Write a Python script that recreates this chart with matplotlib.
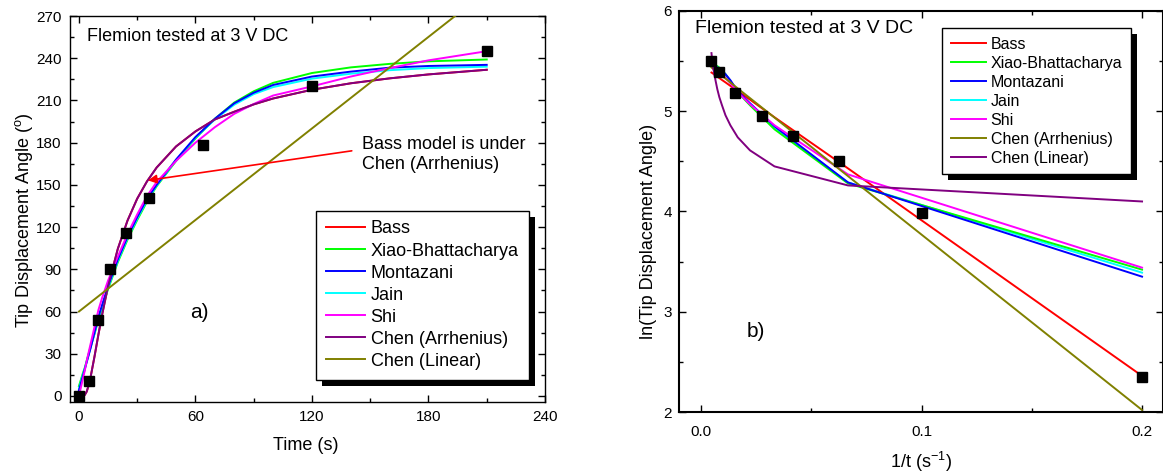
import numpy as np
import matplotlib.pyplot as plt
from matplotlib.patches import Rectangle
from matplotlib.transforms import IdentityTransform
from matplotlib.ticker import MultipleLocator

plt.rcParams['font.family'] = ['Liberation Sans', 'DejaVu Sans']
plt.rcParams['mathtext.fontset'] = 'custom'
plt.rcParams['mathtext.rm'] = 'Liberation Sans'
plt.rcParams['mathtext.it'] = 'Liberation Sans:italic'

# measured tip displacement of the Flemion sample
time_s = [0, 5, 10, 16, 24, 36, 64, 120, 210]
angle_deg = [0, 10.5, 54, 90, 116, 141, 178, 220, 245]

# model curves, time domain
fit_t = [0, 2, 3, 4, 5, 6, 8, 10, 12, 15, 20, 25, 30, 35, 40, 50, 60, 70, 80,
         90, 100, 120, 140, 160, 180, 210]
chen_arr = [0, 0.04, 0.7, 3.1, 7.5, 13.4, 27.9, 43.4, 58.2, 78, 104.5, 124.6,
            140.2, 152.4, 162.3, 177.3, 188, 196.5, 202, 207.2, 211.4, 217.6,
            222.2, 225.7, 228.5, 231.8]
bass = chen_arr  # identical to Chen (Arrhenius) in this panel
xiao = [7, 16, 20, 25, 30, 35, 44, 54, 63, 76, 95, 111, 125, 138, 149, 167,
        183, 197, 208.5, 216.5, 222.5, 229.5, 233.5, 236, 237.8, 239.1]
montazani = [4, 14, 19, 24, 29, 34, 45, 56, 65, 78, 97, 113, 127, 140, 150,
             168, 184, 197, 208, 215.5, 221, 227, 230.5, 233.3, 234.5, 235.3]
jain = [5, 15, 19.5, 24.5, 29.5, 34.5, 44.5, 55, 64, 77, 96, 112, 126, 139,
        149.5, 167.5, 183.5, 196.5, 207, 214.5, 219.5, 225.5, 229, 231.5, 233,
        234]
shi = [0, 12, 18, 25, 31, 37, 49, 61, 70, 82, 99, 115, 129, 142, 152, 167,
       180, 191, 200.5, 207.5, 213.5, 220, 227, 233, 238.5, 245]
lin_t = [0, 240]
chen_lin = [60, 320.2]

# model curves, ln(angle) against 1/t
grid_t = [5, 15, 30, 45, 60, 75, 90, 105, 120, 135, 150, 165, 180, 195, 210]
ln_bass = [2.36, 4.43, 4.94, 5.116, 5.202, 5.253, 5.288, 5.312, 5.331, 5.345,
           5.357, 5.366, 5.374, 5.381, 5.386]
ln_xiao = [3.42, 4.28, 4.82, 5.06, 5.19, 5.30, 5.37, 5.41, 5.435, 5.45, 5.46,
           5.465, 5.47, 5.474, 5.477]
ln_montazani = [3.35, 4.29, 4.85, 5.08, 5.20, 5.31, 5.37, 5.405, 5.425,
                5.438, 5.447, 5.453, 5.457, 5.459, 5.461]
ln_jain = [3.39, 4.29, 4.84, 5.07, 5.195, 5.30, 5.365, 5.40, 5.42, 5.433,
           5.442, 5.448, 5.452, 5.455, 5.457]
ln_shi = [3.44, 4.37, 4.86, 5.07, 5.19, 5.28, 5.335, 5.37, 5.394, 5.415,
          5.437, 5.457, 5.474, 5.488, 5.50]
ln_chen_arr = [2.02, 4.353, 4.937, 5.131, 5.228, 5.287, 5.326, 5.353, 5.374,
               5.390, 5.403, 5.414, 5.423, 5.430, 5.437]
ln_chen_lin = [4.10, 4.26, 4.45, 4.61, 4.74, 4.86, 4.96, 5.06, 5.14, 5.22,
               5.30, 5.37, 5.43, 5.50, 5.58]

RED, GREEN, BLUE = '#ff0000', '#00ff00', '#0000ff'
CYAN, MAGENTA = '#00ffff', '#ff00ff'
PURPLE, OLIVE = '#800080', '#808000'
LW = 1.4


def style_axes(ax, spine_w):
    for s in ax.spines.values():
        s.set_linewidth(spine_w)
    ax.tick_params(which='both', direction='in', top=True, right=True,
                   labelsize=11, width=1)
    ax.tick_params(which='major', length=5)
    ax.tick_params(which='minor', length=3)


def boxed_legend(ax, fig, anchor, fs, spacing, off=6):
    leg = ax.legend(loc='upper left', bbox_to_anchor=anchor, fontsize=fs,
                    frameon=True, fancybox=False, framealpha=1,
                    edgecolor='black', borderaxespad=0, handlelength=2.2,
                    handletextpad=0.3, labelspacing=spacing, borderpad=0.55)
    leg.get_frame().set_linewidth(1.0)
    fig.canvas.draw()
    bb = leg.get_window_extent()
    ax.add_patch(Rectangle((bb.x0 + off, bb.y0 - off), bb.width, bb.height,
                           transform=IdentityTransform(), facecolor='black',
                           edgecolor='none', zorder=4.9, clip_on=False))


fig = plt.figure(figsize=(11.63, 4.74), dpi=100)

# ---- a) angle against time ----
ax1 = fig.add_axes([0.0602, 0.1519, 0.4084, 0.8143])
ax1.plot(fit_t, bass, color=RED, lw=LW, label='Bass', zorder=2)
ax1.plot(fit_t, xiao, color=GREEN, lw=LW, label='Xiao-Bhattacharya', zorder=2.1)
ax1.plot(fit_t, montazani, color=BLUE, lw=LW, label='Montazani', zorder=2.3)
ax1.plot(fit_t, jain, color=CYAN, lw=LW, label='Jain', zorder=2.2)
ax1.plot(fit_t, shi, color=MAGENTA, lw=LW, label='Shi', zorder=2.4)
ax1.plot(fit_t, chen_arr, color=PURPLE, lw=LW, label='Chen (Arrhenius)', zorder=2.5)
ax1.plot(lin_t, chen_lin, color=OLIVE, lw=LW, label='Chen (Linear)', zorder=2.6)
ax1.plot(time_s, angle_deg, 's', color='black', ms=6.5, zorder=3)

ax1.set_xlim(-4.6, 240)
ax1.set_ylim(-4.3, 270)
ax1.xaxis.set_major_locator(MultipleLocator(60))
ax1.xaxis.set_minor_locator(MultipleLocator(30))
ax1.yaxis.set_major_locator(MultipleLocator(30))
ax1.yaxis.set_minor_locator(MultipleLocator(15))
style_axes(ax1, 1.0)
ax1.tick_params(which='both', pad=6)
ax1.set_xlabel('Time (s)', fontsize=13)
ax1.set_ylabel('Tip Displacement Angle ($^{\\mathrm{o}}$)', fontsize=13)
ax1.xaxis.set_label_coords(0.497, -0.091)
ax1.yaxis.set_label_coords(-0.074, 0.47)

ax1.text(0.035, 0.948, 'Flemion tested at 3 V DC', transform=ax1.transAxes,
         fontsize=13, va='center')
ax1.text(0.272, 0.231, 'a)', transform=ax1.transAxes, fontsize=15,
         ha='center', va='center')
ax1.annotate('', xy=(35.5, 153.2), xytext=(140.5, 174.2),
             arrowprops=dict(arrowstyle='-|>', color=RED, lw=1.2,
                             mutation_scale=13, shrinkA=0, shrinkB=0))
ax1.text(146, 171.7, 'Bass model is under\nChen (Arrhenius)', fontsize=13,
         va='center', ha='left')

boxed_legend(ax1, fig, (0.517, 0.496), 13, 0.28)

# ---- b) ln(angle) against 1/t ----
ax2 = fig.add_axes([0.5838, 0.1308, 0.4162, 0.846])
inv_grid = 1.0 / np.array(grid_t)
ax2.plot(inv_grid, ln_bass, color=RED, lw=LW, label='Bass')
ax2.plot(inv_grid, ln_xiao, color=GREEN, lw=LW, label='Xiao-Bhattacharya')
ax2.plot(inv_grid, ln_montazani, color=BLUE, lw=LW, label='Montazani')
ax2.plot(inv_grid, ln_jain, color=CYAN, lw=LW, label='Jain', zorder=1.9)
ax2.plot(inv_grid, ln_shi, color=MAGENTA, lw=LW, label='Shi')
ax2.plot(inv_grid, ln_chen_arr, color=OLIVE, lw=LW, label='Chen (Arrhenius)')
ax2.plot(inv_grid, ln_chen_lin, color=PURPLE, lw=LW, label='Chen (Linear)')
ax2.plot(1.0 / np.array(time_s[1:]), np.log(angle_deg[1:]), 's',
         color='black', ms=6.5, zorder=3)

ax2.set_xlim(-0.00998, 0.2095)
ax2.set_ylim(2, 6)
ax2.xaxis.set_major_locator(MultipleLocator(0.1))
ax2.xaxis.set_minor_locator(MultipleLocator(0.05))
ax2.yaxis.set_major_locator(MultipleLocator(1))
ax2.yaxis.set_minor_locator(MultipleLocator(0.5))
ax2.xaxis.set_major_formatter(lambda v, p: f'{v:.1f}')
style_axes(ax2, 1.5)
ax2.tick_params(axis='x', which='both', pad=9.5)
ax2.tick_params(axis='y', which='both', pad=5)
ax2.set_xlabel('1/t (s$^{-1}$)', fontsize=13)
ax2.set_ylabel('ln(Tip Displacement Angle)', fontsize=13)
ax2.xaxis.set_label_coords(0.501, -0.095)
ax2.yaxis.set_label_coords(-0.045, 0.45)

ax2.text(0.033, 0.957, 'Flemion tested at 3 V DC', transform=ax2.transAxes,
         fontsize=14, va='center')
ax2.text(0.158, 0.2, 'b)', transform=ax2.transAxes, fontsize=15,
         ha='center', va='center')

boxed_legend(ax2, fig, (0.543, 0.958), 11.5, 0.25)

fig.savefig('out.png', dpi=100)
